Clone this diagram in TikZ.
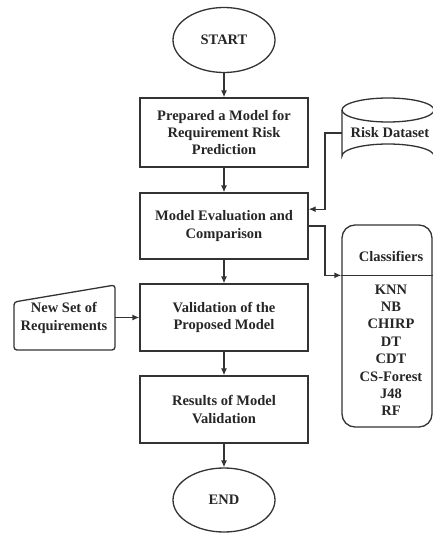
\documentclass[tikz,border=0pt]{standalone}
\usepackage{fontspec}
\setmainfont{Liberation Serif}
\usetikzlibrary{shapes.geometric,arrows.meta,calc}
\begin{document}
\begin{tikzpicture}[x=1pt,y=-1pt,
  every node/.style={font=\bfseries\fontsize{14.5}{17.4}\selectfont, text=black!85, align=center},
  ln/.style={draw=black!80, line width=1.3pt},
  arr/.style={ln, -{Latex[length=7pt,width=6pt]}},
  term/.style={ln, ellipse, minimum width=102pt, minimum height=65pt, inner sep=0pt},
  procbox/.style={ln, rectangle, minimum width=168pt, inner sep=0pt}]
\useasboundingbox (0,0) rectangle (433,533);
\begin{scope}
\clip (0,0) rectangle (433,533);
% nodes of main flow
\node[term] (start) at (224,40) {START};
\node[procbox, minimum height=69pt] (b1) at (224,132.5) {Prepared a Model for\\Requirement Risk\\Prediction};
\node[procbox, minimum height=66pt] (b2) at (224,226) {Model Evaluation and\\Comparison};
\node[procbox, minimum height=67pt] (b3) at (224,317.5) {Validation of the\\Proposed Model};
\node[procbox, minimum height=67pt] (b4) at (224,409.5) {Results of Model\\Validation};
\node[term, minimum height=64pt] (end) at (224,500) {END};
% risk dataset cylinder
\draw[ln] (342,110) -- (342,156) arc[start angle=180, end angle=360, x radius=46, y radius=12] -- (434,110);
\draw[ln] (388,110) ellipse[x radius=46, y radius=12];
\node (rd) at (390,133) {Risk Dataset};
\coordinate (rdl) at (342,133);
% classifiers box
\node[ln, rectangle, rounded corners=13pt, minimum width=90pt, minimum height=202pt, inner sep=0pt] (cls) at (387,326) {};
\coordinate (clsdiv) at ($(cls.north west)+(0,51)$);
\draw[ln] (clsdiv) -- (cls.east |- clsdiv);
\node (clt) at (391,256) {Classifiers};
\node[anchor=north] (cll) at (391,281) {KNN\\NB\\CHIRP\\DT\\CDT\\CS-Forest\\J48\\RF};
% manual input
\draw[ln, rounded corners=3pt] (14,302) -- (115,285) -- (115,350) -- (14,350) -- cycle;
\node (nsr) at (64,318) {New Set of\\Requirements};
\coordinate (nsre) at (115,317.5);
\end{scope}
% connectors
\draw[arr] (start) -- (b1);
\draw[arr] (b1) -- (b2);
\draw[arr] (b2) -- (b3);
\draw[arr] (b3) -- (b4);
\draw[arr] (b4) -- (end);
\draw[arr] (rdl) -- (325,133) |- ($(b2.north east)!0.25!(b2.south east)$);
\draw[arr] (b2.east) -- (325,226) |- (clsdiv);
\draw[arr] (nsre) -- (b3.west);
\end{tikzpicture}
\end{document}
